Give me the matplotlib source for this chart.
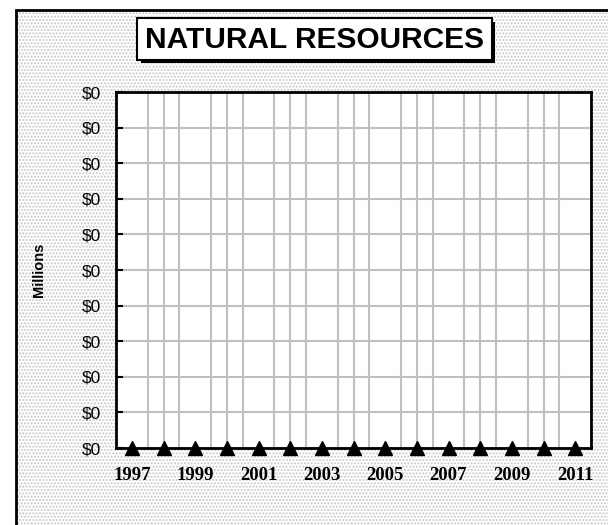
import numpy as np
import matplotlib
matplotlib.use('Agg')
import matplotlib.pyplot as plt
from matplotlib.patches import Rectangle
from matplotlib.ticker import FuncFormatter, MultipleLocator

# data (all zero, axis in dollars shown as millions)
years = list(range(1997, 2012))
values = [0] * len(years)
title = "NATURAL RESOURCES"
y_label = "Millions"

W, H = 608, 525
fig = plt.figure(figsize=(W / 100, H / 100), dpi=100)
fig.patch.set_facecolor('white')

# dotted chart background with border (cut at right/bottom like the original)
bg = Rectangle((16 / W, 0), 1, 1 - 10 / H, transform=fig.transFigure,
               facecolor='white', edgecolor='#c8c8c8', hatch='.....',
               linewidth=0, zorder=-2)
fig.patches.append(bg)
border = Rectangle((16 / W, -0.1), 1, 1.1 - 10 / H, transform=fig.transFigure,
                   facecolor='none', edgecolor='black', linewidth=2, zorder=-1)
fig.patches.append(border)

ax = fig.add_axes([116 / W, 1 - 448 / H, (591 - 116) / W, (448 - 92) / H])
ax.set_zorder(2)
ax.set_facecolor('white')

x = np.arange(len(years))
ax.plot(x, values, linestyle='none', marker='^', color='black',
        markersize=10, clip_on=False, zorder=5)

ax.set_xlim(-0.5, len(years) - 0.5)
ax.set_ylim(0, 1)
ax.yaxis.set_major_locator(MultipleLocator(0.1))
ax.yaxis.set_major_formatter(FuncFormatter(lambda v, p: f"${v / 1e6:,.0f}"))

ax.set_xticks(x[::2])
ax.set_xticklabels([str(y) for y in years[::2]], fontfamily='Liberation Serif',
                   fontweight='bold', fontsize=13.5)
ax.set_xticks(np.arange(-0.5, len(years), 0.5), minor=True)

ax.grid(True, which='minor', axis='x', color='#c0c0c0', linewidth=1.5)
ax.grid(True, which='major', axis='y', color='#c0c0c0', linewidth=1.5)
ax.set_axisbelow(True)

ax.tick_params(axis='x', which='both', length=0, pad=14)
ax.tick_params(axis='y', direction='in', length=5, width=1.5, pad=11,
               labelsize=12.5)
for lab in ax.get_yticklabels():
    lab.set_fontfamily('Liberation Sans')

for s in ax.spines.values():
    s.set_linewidth(2)
    s.set_color('black')

ax.set_ylabel(y_label, fontfamily='Liberation Sans', fontweight='bold',
              fontsize=10.5)
ax.yaxis.set_label_coords(-70 / (591 - 116), 0.5)

# title box with drop shadow
fig.patches.append(Rectangle((141 / W, 1 - 63 / H), (495 - 141) / W, (63 - 22) / H,
                             transform=fig.transFigure, facecolor='black',
                             edgecolor='black', linewidth=0, zorder=3))
fig.patches.append(Rectangle((137 / W, 1 - 60 / H), (492 - 137) / W, (60 - 18) / H,
                             transform=fig.transFigure, facecolor='white',
                             edgecolor='black', linewidth=1.5, zorder=4))
fig.text((137 + 492) / 2 / W, 1 - 40 / H, title, ha='center', va='center',
         fontfamily='Liberation Sans', fontweight='bold', fontsize=21.5, zorder=5)

fig.savefig('out.png', dpi=100)
